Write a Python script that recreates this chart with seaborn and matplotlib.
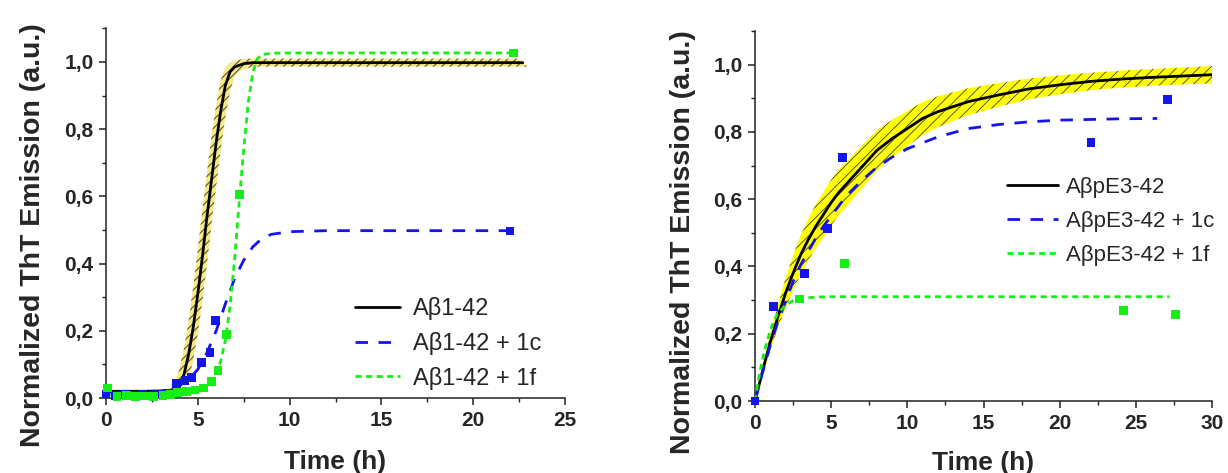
import matplotlib
matplotlib.use("Agg")
import numpy as np
import pandas as pd
import matplotlib.pyplot as plt
import seaborn as sns
from matplotlib.lines import Line2D
from matplotlib.ticker import MultipleLocator, FuncFormatter

# ---------------- Aβ1-42 panel ----------------
# fitted ThT curves
t_ab = [0, 1, 2, 3, 3.5, 3.75, 4, 4.25, 4.5, 4.75, 5, 5.25, 5.5, 5.75, 6, 6.25,
        6.5, 6.75, 7, 7.5, 8, 9, 10, 15, 22.7]
fit_ab = [0.02, 0.02, 0.02, 0.021, 0.023, 0.027, 0.036, 0.07, 0.13, 0.21, 0.31,
          0.42, 0.54, 0.65, 0.76, 0.855, 0.93, 0.97, 0.985, 0.995, 0.998, 0.998,
          0.998, 0.998, 0.998]
t_ab_1c = [0, 1, 2, 3, 3.5, 4, 4.5, 5, 5.5, 6, 6.5, 7, 7.5, 8, 8.5, 9, 10, 12,
           15, 22]
fit_ab_1c = [0.016, 0.016, 0.017, 0.02, 0.026, 0.037, 0.055, 0.085, 0.135, 0.2,
             0.28, 0.355, 0.41, 0.45, 0.475, 0.487, 0.495, 0.498, 0.498, 0.498]
t_ab_1f = [0, 1, 2, 3, 3.5, 4, 4.5, 5, 5.5, 5.75, 6, 6.25, 6.5, 6.75, 7, 7.25,
           7.5, 7.75, 8, 8.25, 8.5, 9, 10, 15, 22.2]
fit_ab_1f = [0.01, 0.01, 0.011, 0.012, 0.013, 0.015, 0.019, 0.026, 0.04, 0.052,
             0.075, 0.11, 0.17, 0.27, 0.41, 0.58, 0.74, 0.88, 0.97, 1.01, 1.022,
             1.026, 1.027, 1.027, 1.027]
# measured points
pts_ab_1c_t = [0, 0.5, 1.0, 1.5, 2.0, 2.5, 3.0, 3.4, 3.85, 4.3, 4.67, 5.2, 5.66,
               5.97, 22.0]
pts_ab_1c_v = [0.012, 0.008, 0.01, 0.006, 0.01, 0.008, 0.012, 0.015, 0.042,
               0.052, 0.062, 0.105, 0.135, 0.23, 0.497]
pts_ab_1f_t = [0.1, 0.6, 1.1, 1.6, 2.1, 2.6, 3.1, 3.5, 3.9, 4.4, 4.85, 5.3, 5.75,
               6.1, 6.57, 7.26, 22.2]
pts_ab_1f_v = [0.03, 0.005, 0.008, 0.004, 0.006, 0.005, 0.008, 0.01, 0.016,
               0.019, 0.024, 0.03, 0.049, 0.083, 0.19, 0.606, 1.027]
# confidence band of the Aβ1-42 fit (half-widths in time and signal)
band_ab_dt = 0.27
band_ab_dv = 0.012
band_ab_from = 3.75

# ---------------- AβpE3-42 panel ----------------
t_pe = [0, 0.5, 1, 1.5, 2, 2.5, 3, 3.5, 4, 4.5, 5, 5.5, 6, 7, 8, 9, 10, 11, 12,
        14, 16, 18, 20, 22, 24, 26, 28, 30]
fit_pe = [0, 0.09, 0.175, 0.25, 0.32, 0.38, 0.435, 0.48, 0.52, 0.555, 0.59,
          0.62, 0.645, 0.695, 0.745, 0.78, 0.81, 0.84, 0.86, 0.89, 0.91, 0.928,
          0.94, 0.95, 0.957, 0.962, 0.966, 0.97]
band_pe_hw = [0, 0.015, 0.025, 0.035, 0.045, 0.052, 0.058, 0.062, 0.065, 0.067,
              0.068, 0.068, 0.067, 0.064, 0.06, 0.056, 0.052, 0.049, 0.046,
              0.04, 0.035, 0.031, 0.028, 0.026, 0.025, 0.025, 0.025, 0.026]
t_pe_1c = [0, 0.5, 1, 1.5, 2, 2.5, 3, 3.5, 4, 4.5, 5, 6, 7, 8, 9, 10, 12, 14,
           16, 18, 20, 22, 24, 26.4]
fit_pe_1c = [0, 0.085, 0.165, 0.235, 0.295, 0.355, 0.405, 0.445, 0.485, 0.52,
             0.55, 0.61, 0.655, 0.695, 0.725, 0.75, 0.785, 0.81, 0.822, 0.83,
             0.835, 0.837, 0.839, 0.84]
t_pe_1f = [0, 0.25, 0.5, 0.75, 1, 1.25, 1.5, 2, 2.5, 3, 4, 5, 10, 15, 20, 25,
           27.2]
fit_pe_1f = [0, 0.07, 0.125, 0.17, 0.21, 0.24, 0.26, 0.285, 0.298, 0.305, 0.309,
             0.31, 0.31, 0.31, 0.31, 0.31, 0.31]
pts_pe_1c_t = [0, 1.2, 3.23, 4.74, 5.74, 22.05, 27.1]
pts_pe_1c_v = [0, 0.28, 0.379, 0.512, 0.724, 0.768, 0.896]
pts_pe_1f_t = [2.9, 5.9, 24.2, 27.6]
pts_pe_1f_v = [0.303, 0.408, 0.27, 0.257]

labels_ab = ["A\u03b21-42", "A\u03b21-42 + 1c", "A\u03b21-42 + 1f"]
labels_pe = ["A\u03b2pE3-42", "A\u03b2pE3-42 + 1c", "A\u03b2pE3-42 + 1f"]
xlabel = "Time (h)"
ylabel = "Normalized ThT Emission (a.u.)"

# ---------------- styling ----------------
sns.set_style("ticks")
plt.rcParams['font.family'] = ['Liberation Sans', 'DejaVu Sans']

BLACK = '#000000'
BLUE = '#1414ee'
GREEN = '#16ee16'
LW = 2.0
STY_BLACK = '-'
STY_BLUE = (0, (4.5, 3.8))
STY_GREEN = (0, (2.2, 1.6))

fig = plt.figure(figsize=(12.28, 4.73), dpi=100)
W, H = 1228.0, 473.0
axL = fig.add_axes([106 / W, 1 - 398 / H, (565 - 106) / W, 369.6 / H])
axR = fig.add_axes([755 / W, 1 - 401 / H, (1212 - 755) / W, 370.0 / H])


def curve(ax, t, v, color, ls, z):
    df = pd.DataFrame({"t": t, "v": v})
    sns.lineplot(data=df, x="t", y="v", ax=ax, color=color, linewidth=LW,
                 linestyle=ls, estimator=None, sort=False, zorder=z)


def points(ax, t, v, color):
    df = pd.DataFrame({"t": t, "v": v})
    sns.scatterplot(data=df, x="t", y="v", ax=ax, marker='s', s=40,
                    color=color, edgecolor='none', linewidth=0, legend=False,
                    zorder=5, clip_on=False)


# --- Aβ1-42 ---
ta = np.asarray(t_ab)
va = np.asarray(fit_ab)
m = ta >= band_ab_from
bx = np.concatenate([ta[m] - band_ab_dt, (ta[m] + band_ab_dt)[::-1]])
by = np.concatenate([va[m] + band_ab_dv, (va[m] - band_ab_dv)[::-1]])
plt.rcParams['hatch.color'] = '#5e5636'
plt.rcParams['hatch.linewidth'] = 0.8
axL.fill(bx, by, facecolor='#f7ea86', edgecolor='#5e5636', hatch='////',
         linewidth=0, zorder=1)
curve(axL, t_ab, fit_ab, BLACK, STY_BLACK, 3)
curve(axL, t_ab_1c, fit_ab_1c, BLUE, STY_BLUE, 3)
curve(axL, t_ab_1f, fit_ab_1f, GREEN, STY_GREEN, 3)
points(axL, pts_ab_1c_t, pts_ab_1c_v, BLUE)
points(axL, pts_ab_1f_t, pts_ab_1f_v, GREEN)

# --- AβpE3-42 ---
tp = np.asarray(t_pe)
vp = np.asarray(fit_pe)
hw = np.asarray(band_pe_hw)
plt.rcParams['hatch.color'] = '#333333'
plt.rcParams['hatch.linewidth'] = 0.55
axR.fill(np.concatenate([tp, tp[::-1]]),
         np.concatenate([vp + hw, (vp - hw)[::-1]]),
         facecolor='#ffff00', edgecolor='#333333', hatch='///', linewidth=0,
         zorder=1)
curve(axR, t_pe, fit_pe, BLACK, STY_BLACK, 3)
curve(axR, t_pe_1c, fit_pe_1c, BLUE, STY_BLUE, 3)
curve(axR, t_pe_1f, fit_pe_1f, GREEN, STY_GREEN, 3)
points(axR, pts_pe_1c_t, pts_pe_1c_v, BLUE)
points(axR, pts_pe_1f_t, pts_pe_1f_v, GREEN)

comma = FuncFormatter(lambda v, p: f"{v:.1f}".replace('.', ','))
for ax, xmax in ((axL, 25), (axR, 30)):
    ax.set_xlim(0, xmax)
    ax.set_ylim(0, 1.1)
    ax.xaxis.set_major_locator(MultipleLocator(5))
    ax.xaxis.set_minor_locator(MultipleLocator(2.5))
    ax.yaxis.set_major_locator(MultipleLocator(0.2))
    ax.yaxis.set_minor_locator(MultipleLocator(0.1))
    ax.yaxis.set_major_formatter(comma)
    for s in ('top', 'right'):
        ax.spines[s].set_visible(False)
    for s in ('left', 'bottom'):
        ax.spines[s].set_linewidth(1.1)
        ax.spines[s].set_color('#222222')
    ax.tick_params(which='major', direction='out', length=5, width=1.1,
                   labelsize=15, pad=4, color='#222222')
    ax.tick_params(which='minor', direction='out', length=3, width=1.0,
                   color='#222222')
    for lab in ax.get_xticklabels() + ax.get_yticklabels():
        lab.set_fontweight('bold')
    ax.set_xlabel(xlabel, fontsize=19, fontweight='bold')
    ax.set_ylabel(ylabel, fontsize=20.5, fontweight='bold')
    ax.set_facecolor('white')

axL.xaxis.set_label_coords(0.5, -0.14)
axR.xaxis.set_label_coords(0.5, -0.135)
axL.yaxis.set_label_coords(-0.13, 0.44)
axR.yaxis.set_label_coords(-0.13, 0.43)


def legend(ax, labels, anchor, fs, hl, tp, sp):
    handles = [Line2D([], [], color=BLACK, lw=LW, ls=STY_BLACK),
               Line2D([], [], color=BLUE, lw=LW, ls=STY_BLUE),
               Line2D([], [], color=GREEN, lw=LW, ls=STY_GREEN)]
    ax.legend(handles, labels, loc='upper left', bbox_to_anchor=anchor,
              bbox_transform=fig.transFigure, frameon=False, fontsize=fs,
              handlelength=hl, handletextpad=tp, labelspacing=sp,
              borderpad=0, borderaxespad=0)


legend(axL, labels_ab, (355 / W, 1 - 297 / H), 17, 1.9, 0.55, 0.5)
legend(axR, labels_pe, (1007 / W, 1 - 177 / H), 16, 2.3, 0.36, 0.58)

fig.savefig("out.png", dpi=100, facecolor='white')
